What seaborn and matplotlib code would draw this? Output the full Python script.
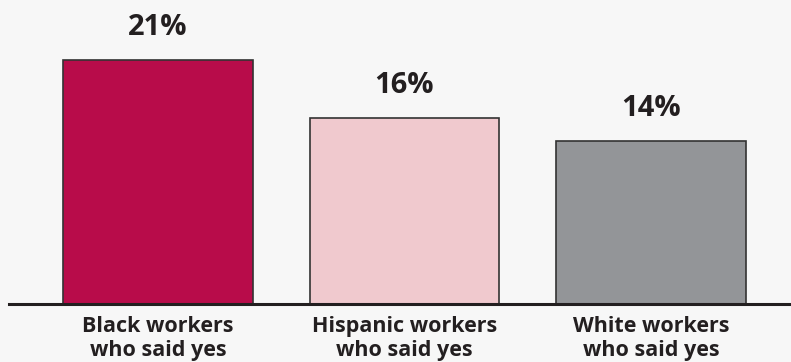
import pandas as pd
import matplotlib
matplotlib.use("Agg")
import matplotlib.pyplot as plt
import seaborn as sns

# Chart data
groups = ["Black workers\nwho said yes", "Hispanic workers\nwho said yes", "White workers\nwho said yes"]
shares = [21, 16, 14]
bar_colors = ["#B80C4A", "#F0C9CE", "#939598"]

sns.set_theme(style="white")
plt.rcParams['font.family'] = ['Open Sans', 'DejaVu Sans']

bg = "#F7F7F7"
df = pd.DataFrame({"group": groups, "share": shares})

fig = plt.figure(figsize=(7.91, 3.62), dpi=100, facecolor=bg)
ax = fig.add_axes([9 / 791, 58 / 362, 1 - 9 / 791, 304 / 362])
ax.set_facecolor(bg)

sns.barplot(data=df, x="group", y="share", hue="group", palette=bar_colors,
            saturation=1, width=0.77, edgecolor="#333333", linewidth=1.2,
            legend=False, ax=ax)

ax.set_xlim(-0.604, 2.568)
ax.set_ylim(0, 26.16)

for i, v in enumerate(shares):
    ax.annotate(f"{v}%", (i, v), xytext=(0, 23.5), textcoords="offset points",
                ha="center", va="center", fontsize=21, fontweight="bold",
                color="#231F20")

ax.set_xlabel("")
ax.set_ylabel("")
ax.set_yticks([])
ax.tick_params(axis="x", length=0, pad=8.5)
for lbl in ax.get_xticklabels():
    lbl.set_fontsize(15.5)
    lbl.set_fontweight("bold")
    lbl.set_color("#231F20")
    lbl.set_linespacing(1.2)

for side in ["top", "right", "left"]:
    ax.spines[side].set_visible(False)
ax.spines["bottom"].set_color("#231F20")
ax.spines["bottom"].set_linewidth(2.2)

fig.savefig("out.png", dpi=100, facecolor=bg)
plt.close(fig)
